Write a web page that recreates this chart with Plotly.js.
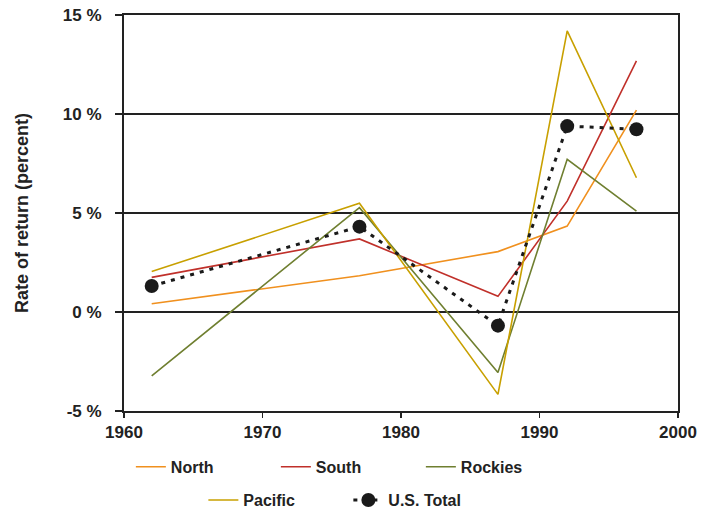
<!DOCTYPE html>
<html>
<head>
<meta charset="utf-8">
<script src="https://cdn.plot.ly/plotly-3.0.1.min.js"></script>
<style>html,body{margin:0;padding:0;background:#fff;}#chart{width:707px;height:514px;}</style>
</head>
<body>
<div id="chart"></div>
<script>
const years = [1962, 1977, 1987, 1992, 1997];
const north = [0.42, 1.83, 3.05, 4.34, 10.2];
const south = [1.75, 3.69, 0.79, 5.6, 12.68];
const rockies = [-3.22, 5.27, -3.05, 7.71, 5.1];
const pacific = [2.04, 5.49, -4.16, 14.2, 6.78];
const usTotal = [1.31, 4.31, -0.69, 9.39, 9.23];
const yTickVals = [-5, 0, 5, 10, 15];
const yTickText = ['-5 %', '0 %', '5 %', '10 %', '15 %'];
const xTickVals = [1960, 1970, 1980, 1990, 2000];

const F = 'Liberation Sans, Arial, sans-serif';
function line(name, y, color, legend) {
  return {x: years, y: y, name: name, type: 'scatter', mode: 'lines',
    line: {color: color, width: 1.6}, legend: legend};
}
const traces = [
  line('North', north, '#f0901e', 'legend'),
  line('South', south, '#c0302a', 'legend'),
  line('Rockies', rockies, '#6f7f30', 'legend'),
  line('Pacific', pacific, '#c8a000', 'legend2'),
  {x: years, y: usTotal, name: 'U.S. Total', type: 'scatter', mode: 'lines+markers',
   line: {color: '#1a1a1a', width: 3, dash: '4px,6px'},
   marker: {color: '#1a1a1a', size: 14, symbol: 'circle'}, legend: 'legend2'}
];
const legFont = {family: F, size: 16, color: '#222', weight: 700};
const layout = {
  width: 707, height: 514,
  margin: {l: 124, r: 29, t: 15, b: 103, autoexpand: false},
  paper_bgcolor: '#fff', plot_bgcolor: '#fff',
  showlegend: true,
  xaxis: {range: [1960, 2000], tickvals: xTickVals, ticks: 'outside', ticklen: 5,
    tickcolor: '#222', tickwidth: 1.5,
    showline: true, linecolor: '#222', linewidth: 2, mirror: true, showgrid: false,
    zeroline: false,
    tickfont: {family: F, size: 17, color: '#222', weight: 700}},
  yaxis: {range: [-5, 15], tickvals: yTickVals, ticktext: yTickText, ticks: 'outside',
    ticklen: 7, tickcolor: '#222', tickwidth: 1.5, ticklabelstandoff: 10,
    showline: true, linecolor: '#222', linewidth: 2, mirror: true,
    showgrid: true, gridcolor: '#222', gridwidth: 1.5, zeroline: true, zerolinecolor: '#222', zerolinewidth: 1.5,
    tickfont: {family: F, size: 17, color: '#222', weight: 700},
    title: {text: 'Rate of return (percent)', standoff: 30,
      font: {family: F, size: 18, color: '#222', weight: 700}}},
  legend: {orientation: 'h', x: 0.405, xanchor: 'center', y: -0.141, yanchor: 'middle',
    font: legFont, bgcolor: 'rgba(0,0,0,0)', entrywidth: 100},
  legend2: {orientation: 'h', x: 0.405, xanchor: 'center', y: -0.225, yanchor: 'middle',
    font: legFont, bgcolor: 'rgba(0,0,0,0)', entrywidth: 100}
};
Plotly.newPlot('chart', traces, layout, {displayModeBar: false, staticPlot: true});
</script>
</body>
</html>
